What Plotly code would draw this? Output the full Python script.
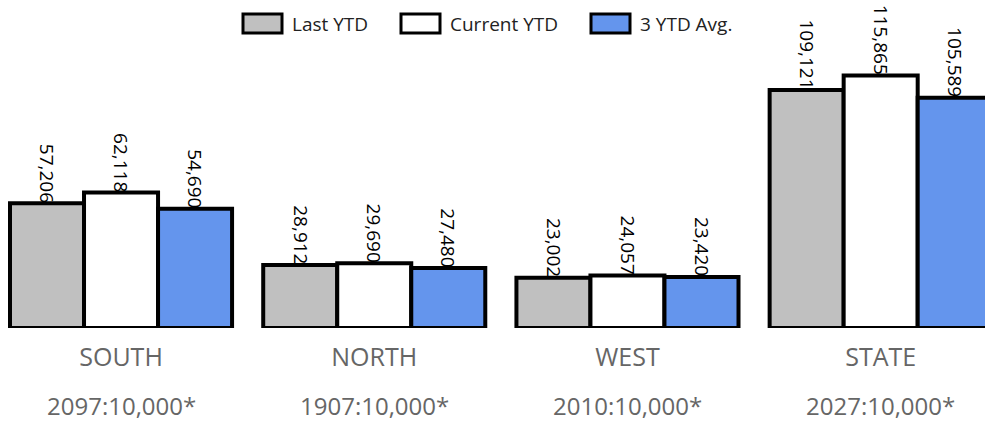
import plotly.graph_objects as go

regions = ["SOUTH", "NORTH", "WEST", "STATE"]
ratios = ["2097:10,000*", "1907:10,000*", "2010:10,000*", "2027:10,000*"]

last_ytd = [57206, 28912, 23002, 109121]
current_ytd = [62118, 29690, 24057, 115865]
avg_3ytd = [54690, 27480, 23420, 105589]

series_names = ["Last YTD", "Current YTD", "3 YTD Avg."]
series_colors = ["#C0C0C0", "#FFFFFF", "#6495ED"]

W, H = 985, 421
PLOT_BOTTOM = 328  # pixel row of the zero line
BARGAP = 0.123

fig = go.Figure()
series = [last_ytd, current_ytd, avg_3ytd]
for name, vals, col in zip(series_names, series, series_colors):
    fig.add_trace(go.Bar(
        x=regions, y=vals, name=name,
        marker=dict(color=col, line=dict(color="black", width=4)),
        showlegend=False,
    ))

# value labels, rotated and sitting right on top of each bar
bw = (1 - BARGAP) / len(series)
for j, vals in enumerate(series):
    for i, v in enumerate(vals):
        fig.add_annotation(x=i + (j - 1) * bw, y=v, xref="x", yref="y",
                           text=f"{v:,}", textangle=90, showarrow=False,
                           xanchor="center", yanchor="bottom", yshift=-1,
                           font=dict(family="Open Sans", size=19, color="black"))

# hand-made legend with wide swatches like the original
swatch_x = [243, 401, 591]
for sx, name, col in zip(swatch_x, series_names, series_colors):
    fig.add_shape(type="rect", xref="paper", yref="paper",
                  x0=sx / W, x1=(sx + 39) / W,
                  y0=(PLOT_BOTTOM - 33) / PLOT_BOTTOM, y1=(PLOT_BOTTOM - 14) / PLOT_BOTTOM,
                  fillcolor=col, line=dict(color="black", width=3))
    fig.add_annotation(xref="paper", yref="paper", x=(sx + 47) / W,
                       y=(PLOT_BOTTOM - 24) / PLOT_BOTTOM,
                       xanchor="left", yanchor="middle", showarrow=False,
                       text=name, font=dict(family="Open Sans", size=19, color="#222"))

for reg, rat in zip(regions, ratios):
    fig.add_annotation(x=reg, xref="x", yref="paper", y=0, yshift=-77,
                       yanchor="middle", showarrow=False, text=rat,
                       font=dict(family="Open Sans", size=24, color="#666"))

fig.update_layout(
    width=W, height=H,
    margin=dict(l=0, r=0, t=0, b=H - PLOT_BOTTOM),
    barmode="group", bargap=BARGAP, bargroupgap=0,
    plot_bgcolor="white", paper_bgcolor="white",
    font=dict(family="Open Sans"),
    xaxis=dict(range=[-0.478, 3.412], showgrid=False, showline=False, ticks="",
               ticklabelstandoff=12, tickfont=dict(size=25, color="#666")),
    yaxis=dict(range=[0, PLOT_BOTTOM / 0.00218], visible=False, showgrid=False),
)

# drop the default page margin so the figure fills the window exactly
fig.write_html("out.html", config={"displayModeBar": False},
               post_script="document.body.style.margin='0';document.body.style.overflow='hidden';")
